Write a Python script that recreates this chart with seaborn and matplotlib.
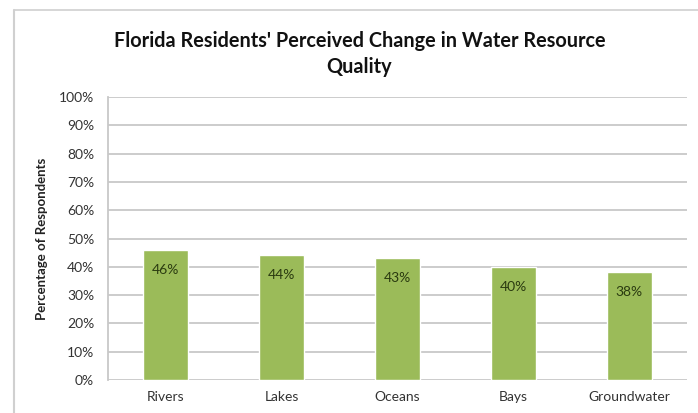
import matplotlib
matplotlib.use("Agg")
import matplotlib.pyplot as plt
from matplotlib.lines import Line2D
from matplotlib.ticker import PercentFormatter
import pandas as pd
import seaborn as sns

categories = ["Rivers", "Lakes", "Oceans", "Bays", "Groundwater"]
percent_values = [46, 44, 43, 40, 38]
y_ticks = [0, 10, 20, 30, 40, 50, 60, 70, 80, 90, 100]

df = pd.DataFrame({"Resource": categories, "Percent": percent_values})

sns.set_theme(style="white")
plt.rcParams["font.family"] = ["Lato", "DejaVu Sans"]

fig = plt.figure(figsize=(6.98, 4.13), dpi=100)
ax = fig.add_axes([108 / 698, 1 - 380 / 413, (687 - 108) / 698, (380 - 97) / 413])

sns.barplot(data=df, x="Resource", y="Percent", color="#9BBB59",
            saturation=1, width=0.39, ax=ax, zorder=3)

ax.set_ylim(0, 100)
ax.set_yticks(y_ticks)
ax.yaxis.set_major_formatter(PercentFormatter(decimals=0))
ax.grid(axis="y", color="#c8c8c8", linewidth=1.3, zorder=0)
ax.set_axisbelow(True)
for side in ["top", "right", "bottom"]:
    ax.spines[side].set_visible(False)
ax.spines["left"].set_color("#c8c8c8")
ax.spines["left"].set_linewidth(1.3)
ax.tick_params(axis="both", length=0, labelsize=10, colors="#333333", pad=10)
ax.tick_params(axis="x", pad=8)
ax.set_xlabel("")
ax.set_ylabel("Percentage of Respondents", fontsize=9.5, fontweight="bold",
              color="#222222", labelpad=8)

for patch, val in zip(ax.patches, percent_values):
    ax.text(patch.get_x() + patch.get_width() / 2, val - 7, f"{val}%",
            ha="center", va="center", fontsize=10, color="#2a3a10", zorder=4)

fig.text(0.515, 1 - 54 / 413,
         "Florida Residents' Perceived Change in Water Resource\nQuality",
         ha="center", va="center", fontsize=14.3, fontweight="bold",
         color="#111111", linespacing=1.4)

# chart frame lines
fig.add_artist(Line2D([14 / 698, 1.0], [1 - 10 / 413, 1 - 10 / 413],
                      color="#d0d0d0", linewidth=1.2, transform=fig.transFigure))
fig.add_artist(Line2D([14 / 698, 14 / 698], [0, 1 - 10 / 413],
                      color="#d0d0d0", linewidth=1.5, transform=fig.transFigure))

fig.savefig("out.png", dpi=100, facecolor="white")
